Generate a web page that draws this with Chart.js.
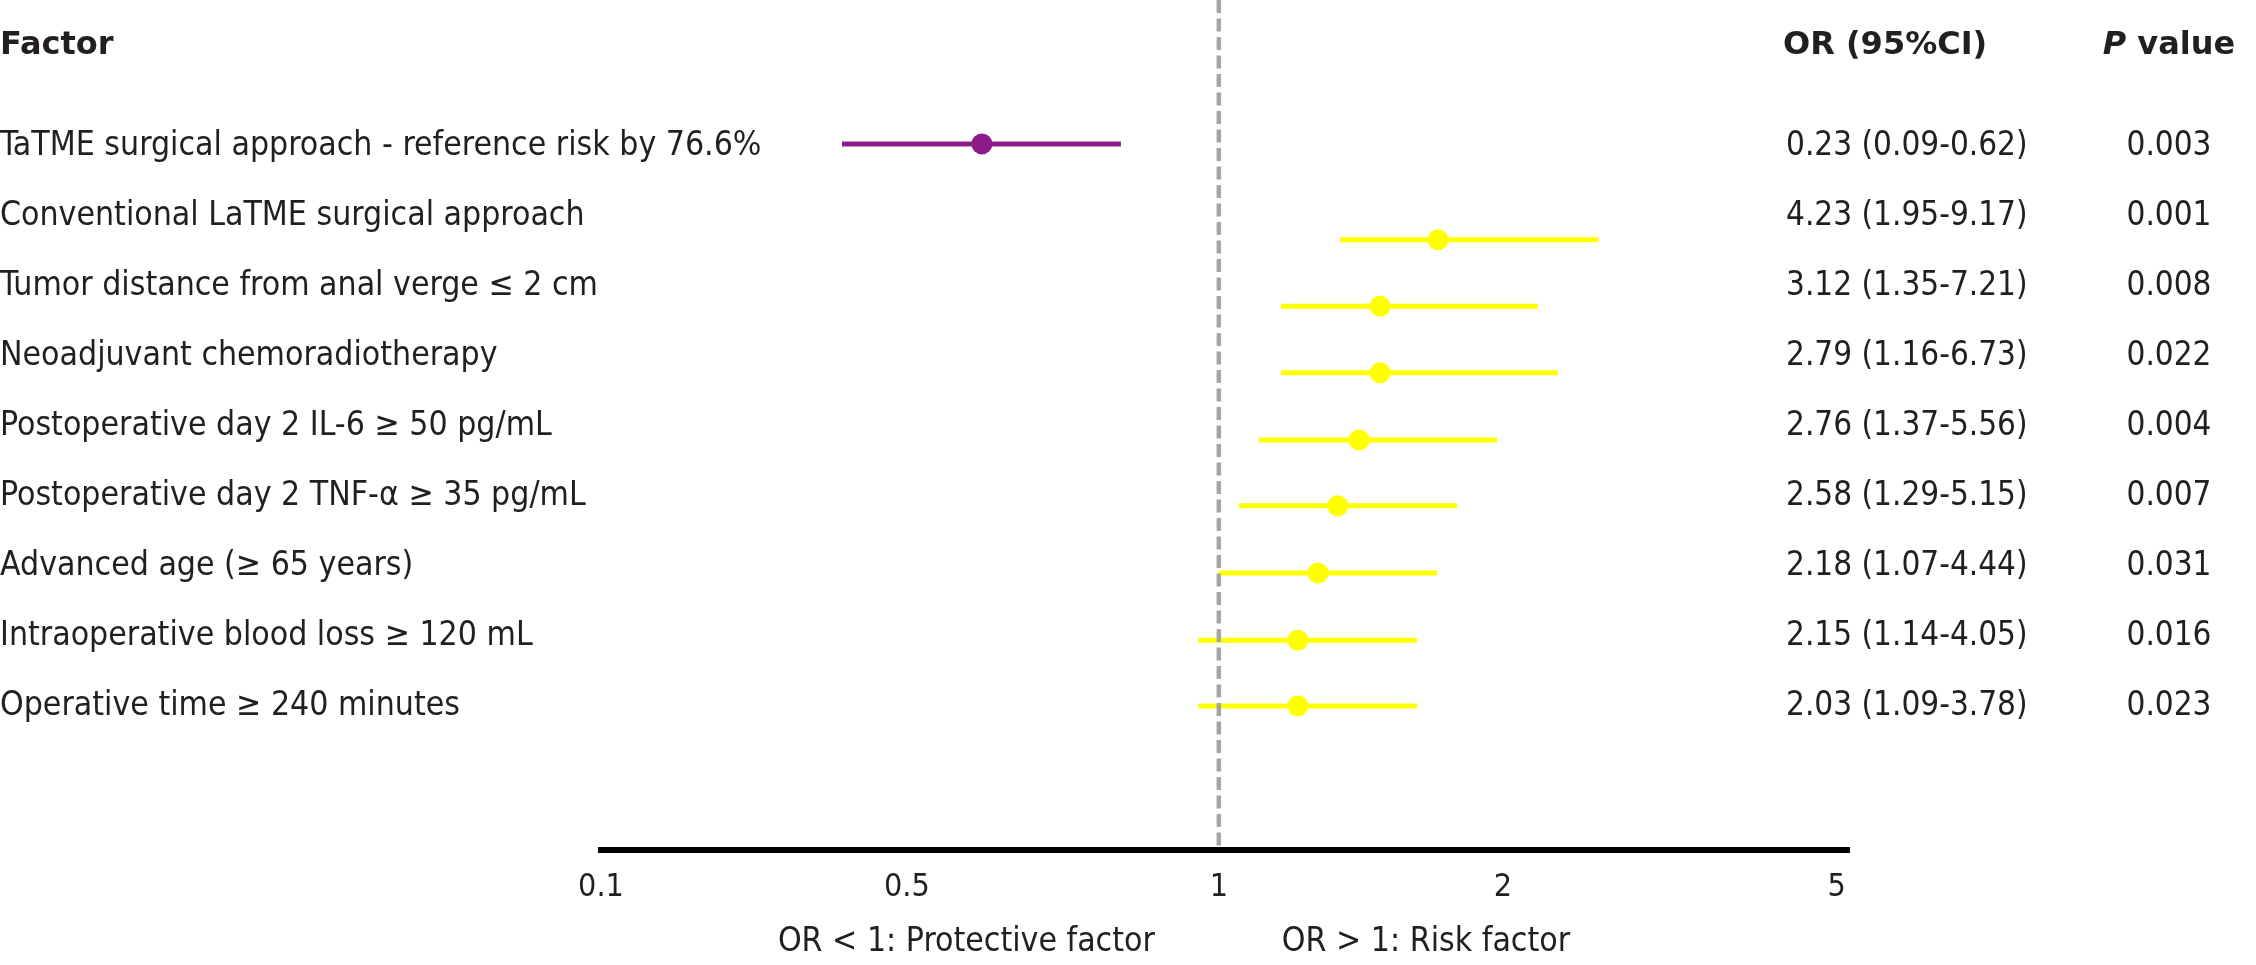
<!DOCTYPE html>
<html>
<head>
<meta charset="utf-8">
<script src="https://cdn.jsdelivr.net/npm/chart.js@4.4.1/dist/chart.umd.min.js"></script>
<style>
  html, body { margin: 0; padding: 0; background: #fff; }
  #wrap { width: 2256px; height: 965px; position: relative; }
</style>
</head>
<body>
<div id="wrap"><canvas id="forest"></canvas></div>
<script>
const factors = [
  'TaTME surgical approach - reference risk by 76.6%',
  'Conventional LaTME surgical approach',
  'Tumor distance from anal verge \u2264 2 cm',
  'Neoadjuvant chemoradiotherapy',
  'Postoperative day 2 IL-6 \u2265 50 pg/mL',
  'Postoperative day 2 TNF-\u03b1 \u2265 35 pg/mL',
  'Advanced age (\u2265 65 years)',
  'Intraoperative blood loss \u2265 120 mL',
  'Operative time \u2265 240 minutes'
];
const orText = [
  '0.23 (0.09-0.62)', '4.23 (1.95-9.17)', '3.12 (1.35-7.21)',
  '2.79 (1.16-6.73)', '2.76 (1.37-5.56)', '2.58 (1.29-5.15)',
  '2.18 (1.07-4.44)', '2.15 (1.14-4.05)', '2.03 (1.09-3.78)'
];
const pValues = ['0.003', '0.001', '0.008', '0.022', '0.004', '0.007', '0.031', '0.016', '0.023'];

// marks as drawn in the picture, in axis units (0 = tick "0.1", 4 = tick "5")
const pointEst = [1.233, 2.710, 2.522, 2.522, 2.454, 2.385, 2.321, 2.256, 2.256];
const ciLow    = [0.780, 2.392, 2.201, 2.201, 2.130, 2.065, 1.999, 1.934, 1.934];
const ciHigh   = [1.683, 3.229, 3.033, 3.098, 2.901, 2.771, 2.706, 2.642, 2.642];
// row of each mark (label rows are 0..8)
const markerRow = [-0.03, 1.34, 2.29, 3.24, 4.2, 5.14, 6.1, 7.06, 8.0];

const tickAt = [0, 0.99, 2, 2.92, 4];
const tickLabels = ['0.1', '0.5', '1', '2', '5'];
const refValue = 2; // the "1" tick

const FONT = '"DejaVu Sans Condensed", "DejaVu Sans", sans-serif';
const FONT_HEAD = '"DejaVu Sans", sans-serif';
const TEXT = '#231f20';
const PURPLE = '#8c1b8c';
const YELLOW = '#ffff00';
const rowColor = i => (i === 0 ? PURPLE : YELLOW);

Chart.defaults.font.family = FONT;
Chart.defaults.color = TEXT;

const ciSets = factors.map((f, i) => ({
  type: 'scatter',
  label: f,
  data: [{x: ciLow[i], y: markerRow[i]}, {x: ciHigh[i], y: markerRow[i]}],
  showLine: true,
  borderColor: rowColor(i),
  borderWidth: 5,
  pointRadius: 0,
  order: 2
}));

const pointSet = {
  type: 'scatter',
  label: 'OR',
  data: pointEst.map((v, i) => ({x: v, y: markerRow[i]})),
  pointRadius: 10.5,
  pointBackgroundColor: factors.map((f, i) => rowColor(i)),
  pointBorderWidth: 0,
  order: 1
};

const tablePlugin = {
  id: 'tablePlugin',
  afterDatasetsDraw(chart) {
    const {ctx, chartArea, scales: {x}} = chart;
    const px = x.getPixelForValue(refValue);
    ctx.save();
    ctx.strokeStyle = '#a6a6a6';
    ctx.lineWidth = 4.5;
    ctx.setLineDash([13, 5.5]);
    ctx.beginPath();
    ctx.moveTo(px, chartArea.top);
    ctx.lineTo(px, chartArea.bottom - 3);
    ctx.stroke();
    ctx.restore();
  },
  afterDraw(chart) {
    const {ctx, scales: {x, y}} = chart;
    const base = r => y.getPixelForValue(r) + 9;
    ctx.save();
    ctx.fillStyle = TEXT;
    ctx.textBaseline = 'alphabetic';

    // headers
    const hy = base(-1.44);
    const bold = 'bold 32px ' + FONT_HEAD;
    const boldIt = 'italic bold 32px ' + FONT_HEAD;
    ctx.textAlign = 'left';
    ctx.font = bold;
    ctx.fillText('Factor', 0, hy);
    ctx.fillText('OR (95%CI)', 1783, hy);
    ctx.font = boldIt;
    const wP = ctx.measureText('P').width;
    ctx.font = bold;
    const wV = ctx.measureText(' value').width;
    const pStart = 2169 - (wP + wV) / 2;
    ctx.font = boldIt;
    ctx.fillText('P', pStart, hy);
    ctx.font = bold;
    ctx.fillText(' value', pStart + wP, hy);

    // rows
    factors.forEach((f, i) => {
      const by = base(i);
      ctx.font = '33.5px ' + FONT;
      ctx.textAlign = 'left';
      ctx.fillText(f, 0, by);
      ctx.font = '33px ' + FONT;
      ctx.fillText(orText[i], 1786, by);
      ctx.textAlign = 'center';
      ctx.fillText(pValues[i], 2169, by);
    });

    // direction notes under the axis
    const rx = x.getPixelForValue(refValue);
    ctx.font = '33.5px ' + FONT;
    ctx.textAlign = 'right';
    ctx.fillText('OR < 1: Protective factor', rx - 64, 951);
    ctx.textAlign = 'left';
    ctx.fillText('OR > 1: Risk factor', rx + 63, 951);
    ctx.restore();
  }
};

new Chart(document.getElementById('forest'), {
  type: 'scatter',
  data: {datasets: [pointSet, ...ciSets]},
  options: {
    responsive: true,
    maintainAspectRatio: false,
    devicePixelRatio: 1,
    animation: false,
    layout: {autoPadding: false, padding: {left: 601, right: 407, top: 0, bottom: 40.6}},
    plugins: {legend: {display: false}, tooltip: {enabled: false}},
    scales: {
      x: {
        type: 'linear',
        min: 0,
        max: 4.04,
        afterBuildTicks: s => { s.ticks = tickAt.map(v => ({value: v})); },
        grid: {display: false, drawTicks: false},
        border: {display: true, color: '#000', width: 6},
        ticks: {
          autoSkip: false,
          maxRotation: 0,
          padding: 18,
          font: {size: 32},
          color: TEXT,
          callback: (v, i) => tickLabels[i]
        }
      },
      y: {
        type: 'linear',
        reverse: true,
        min: -2.086,
        max: 10.057,
        display: false
      }
    }
  },
  plugins: [tablePlugin]
});
</script>
</body>
</html>
